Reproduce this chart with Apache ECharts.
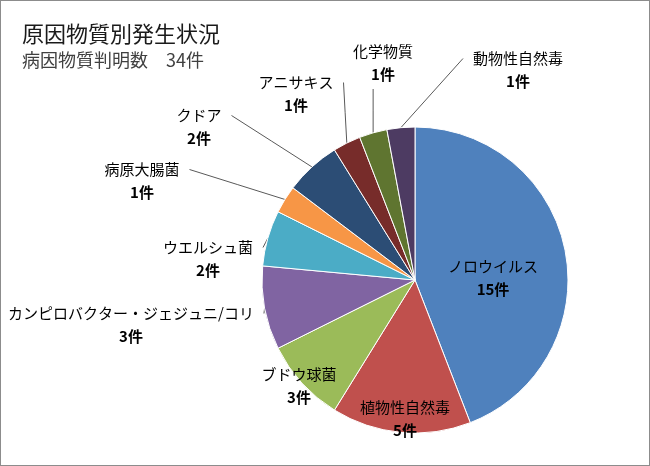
<!DOCTYPE html>
<html>
<head>
<meta charset="utf-8">
<script src="https://cdn.jsdelivr.net/npm/echarts@6/dist/echarts.min.js"></script>
<style>
  html, body { margin: 0; padding: 0; background: #fff; }
  #chart { width: 648px; height: 464px; border: 1px solid #8c8c8c; }
</style>
</head>
<body>
<div id="chart"></div>
<script>
// 原因物質別発生状況 (件数)
var names = ['ノロウイルス', '植物性自然毒', 'ブドウ球菌', 'カンピロバクター・ジェジュニ/コリ',
    'ウエルシュ菌', '病原大腸菌', 'クドア', 'アニサキス', '化学物質', '動物性自然毒'];
var counts = [15, 5, 3, 3, 2, 1, 2, 1, 1, 1];
var colors = ['#4F81BD', '#C0504D', '#9BBB59', '#8064A2', '#4BACC6',
    '#F79646', '#2C4D75', '#772C2A', '#5F7530', '#4D3B62'];

// label centres placed by hand like the original sheet
var labelPos = [[492, 277], [404, 418], [298, 385], [130, 324], [207, 258],
    [141, 180], [198, 126], [295, 93], [382, 62], [517, 69]];
var insideLabel = [true, true, true, false, false, false, false, false, false, false];

var LINE_H = 23;
var FONT = 'Noto Sans CJK JP';

// text width of a label block (two lines)
var ctx = document.createElement('canvas').getContext('2d');
function labelWidth(i) {
    ctx.font = '15px "' + FONT + '"';
    var w1 = ctx.measureText(names[i]).width;
    ctx.font = 'bold 15px "' + FONT + '"';
    var w2 = ctx.measureText(counts[i] + '件').width;
    return Math.max(w1, w2);
}

var data = names.map(function (n, i) {
    return {
        name: n,
        value: counts[i],
        itemStyle: {color: colors[i]},
        labelLine: {show: !insideLabel[i]}
    };
});

var mychart = echarts.init(document.getElementById('chart'));
mychart.setOption({
    animation: false,
    title: {
        text: '原因物質別発生状況',
        subtext: '病因物質判明数　34件',
        left: 16,
        top: 17,
        itemGap: 6,
        textStyle: {
            fontFamily: FONT,
            fontSize: 22,
            fontWeight: 'normal',
            color: '#1a1a1a'
        },
        subtextStyle: {
            fontFamily: FONT,
            fontSize: 18,
            color: '#404040'
        }
    },
    series: [
        {
            type: 'pie',
            center: [414, 279],
            radius: 153,
            startAngle: 90,
            clockwise: true,
            itemStyle: {borderColor: '#fff', borderWidth: 1},
            label: {
                show: true,
                position: 'outside',
                overflow: 'none',
                fontFamily: FONT,
                formatter: '{n|{b}}\n{c|{c}件}',
                rich: {
                    n: {fontSize: 15, color: '#000', lineHeight: LINE_H, align: 'center', fontFamily: FONT},
                    c: {fontSize: 15, color: '#000', fontWeight: 'bold', lineHeight: LINE_H, align: 'center', fontFamily: FONT}
                }
            },
            labelLine: {
                show: true,
                length: 10,
                length2: 0,
                smooth: false,
                minTurnAngle: 0,
                maxSurfaceAngle: 180,
                lineStyle: {color: '#595959', width: 1}
            },
            labelLayout: function (params) {
                var i = params.dataIndex;
                var p = labelPos[i];
                var w = labelWidth(i), h = LINE_H * 2;
                var left = p[0] - w / 2, top = p[1] - h / 2;
                var res = {x: p[0], y: p[1], align: 'center', verticalAlign: 'middle'};
                var pts = params.labelLinePoints;
                if (pts && !insideLabel[i]) {
                    // straight leader from slice edge to the side of the label
                    var a = [pts[0][0], pts[0][1]], end;
                    if (a[0] < left - 10) {
                        end = [left - 10, top + LINE_H / 2];
                    } else if (a[0] > left + w + 10) {
                        end = [left + w + 10, top + LINE_H / 2];
                    } else if (a[1] > top + h) {
                        end = [a[0], top + h + 3];
                    } else {
                        end = [a[0], top - 3];
                    }
                    var mid = [(a[0] + end[0]) / 2, (a[1] + end[1]) / 2];
                    res.labelLinePoints = [a, mid, end];
                }
                return res;
            },
            data: data
        }
    ]
});
</script>
</body>
</html>
